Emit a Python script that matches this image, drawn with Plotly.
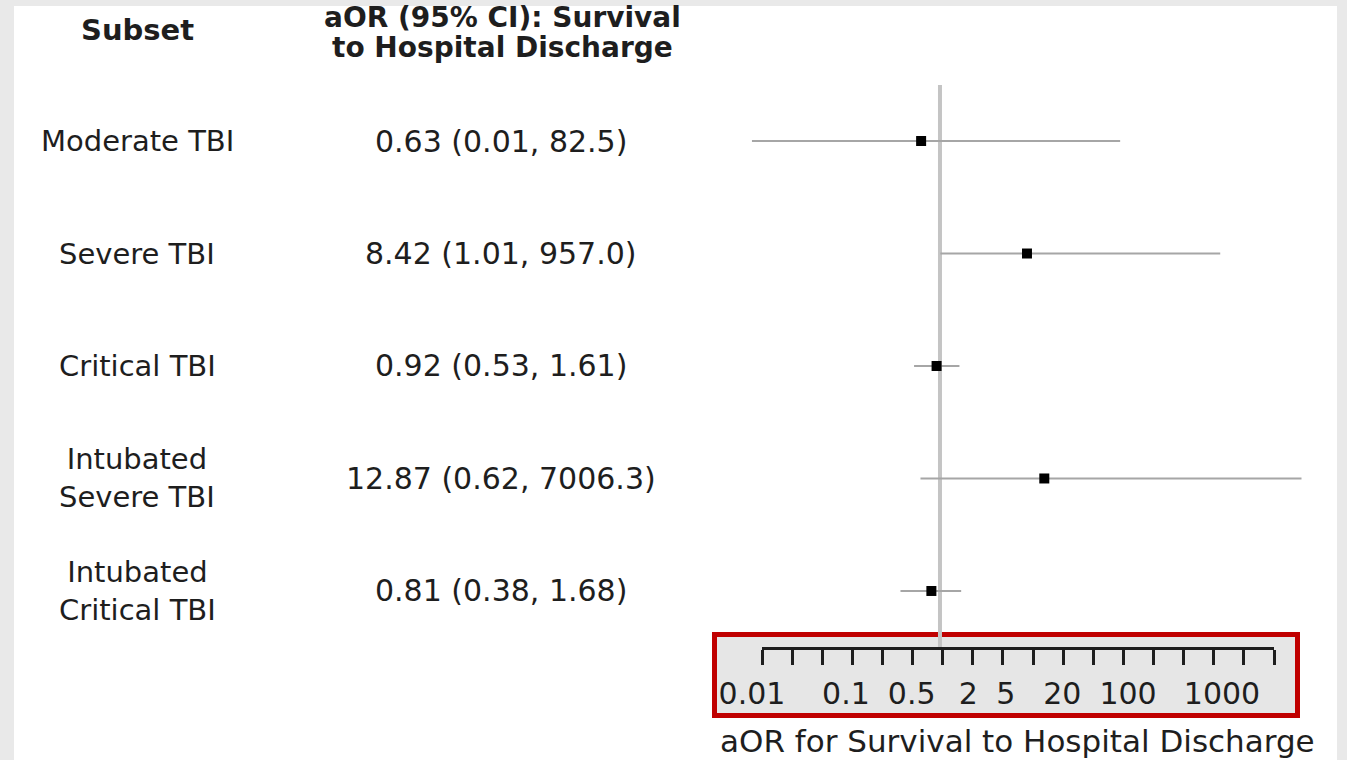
import plotly.graph_objects as go

# ---------------- data ----------------
subsets = ["Moderate TBI", "Severe TBI", "Critical TBI",
           "Intubated<br>Severe TBI", "Intubated<br>Critical TBI"]
aor = [0.63, 8.42, 0.92, 12.87, 0.81]
ci_low = [0.01, 1.01, 0.53, 0.62, 0.38]
ci_high = [82.5, 957.0, 1.61, 7006.3, 1.68]
ci_text = ["0.63 (0.01, 82.5)", "8.42 (1.01, 957.0)", "0.92 (0.53, 1.61)",
           "12.87 (0.62, 7006.3)", "0.81 (0.38, 1.68)"]
tick_vals = [0.01, 0.1, 0.5, 2, 5, 20, 100, 1000]
tick_text = ["0.01", "0.1", "0.5", "2", "5", "20", "100", "1000"]
header_subset = "Subset"
header_ci = ["aOR (95% CI): Survival", "to Hospital Discharge"]
x_title = "aOR for Survival to Hospital Discharge"
null_value = 1

# ---------------- layout constants ----------------
W, H = 1347, 760
FONT = "DejaVu Sans"
TXT = "#1e1e1e"

def px(xp):
    return xp / W

def py(yp):
    return (H - yp) / H

rows = list(range(1, len(subsets) + 1))

fig = go.Figure()

fig.add_trace(go.Scatter(
    x=aor, y=rows, mode="markers",
    marker=dict(symbol="square", size=10, color="black"),
    error_x=dict(type="data", symmetric=False,
                 array=[h - a for h, a in zip(ci_high, aor)],
                 arrayminus=[a - l for a, l in zip(aor, ci_low)],
                 color="#a6a6a6", thickness=2, width=0),
    showlegend=False, hoverinfo="skip", xaxis="x", yaxis="y"))

# empty trace to carry the ruler axis
fig.add_trace(go.Scatter(x=[], y=[], xaxis="x2", yaxis="y",
                         showlegend=False, hoverinfo="skip"))

shapes = [
    # white slide panel
    dict(type="rect", xref="paper", yref="paper", x0=px(14), x1=px(1337),
         y0=py(760), y1=py(6), fillcolor="white", line=dict(width=0), layer="below"),
    # grey axis box with red frame
    dict(type="rect", xref="paper", yref="paper", x0=px(714.5), x1=px(1297.5),
         y0=py(715.5), y1=py(634.5), fillcolor="#e6e6e6",
         line=dict(color="#c00000", width=5), layer="below"),
    # null line
    dict(type="line", xref="x", yref="y", x0=null_value, x1=null_value,
         y0=0.49, y1=5.507, line=dict(color="#c4c4c4", width=4), layer="below"),
]

def ann(text, x, y, size, yref="paper"):
    return dict(text=text, xref="paper", yref=yref, x=x, y=y, showarrow=False,
                xanchor="center", yanchor="middle", align="center",
                font=dict(family=FONT, size=size, color=TXT))

annotations = [ann("<b>%s</b>" % header_subset, px(137), py(30), 29)]
for t, yy in zip(header_ci, [17, 47]):
    annotations.append(ann("<b>%s</b>" % t, px(502), py(yy), 28))
for r, s, c in zip(rows, subsets, ci_text):
    annotations.append(ann(s, px(137), r, 29, yref="y"))
    annotations.append(ann(c, px(501), r, 30, yref="y"))
annotations.append(ann(x_title, px(1017), py(741), 31))

fig.update_layout(
    width=W, height=H,
    margin=dict(l=0, r=0, t=0, b=0),
    paper_bgcolor="#e9e9e9",
    plot_bgcolor="rgba(0,0,0,0)",
    shapes=shapes,
    annotations=annotations,
    xaxis=dict(type="log", domain=[px(720), px(1340)], range=[-2.340, 4.255],
               tickvals=tick_vals, ticktext=tick_text,
               showgrid=False, zeroline=False, showline=False,
               ticks="outside", ticklen=19, tickcolor="rgba(0,0,0,0)",
               tickfont=dict(family=FONT, size=30, color=TXT), anchor="y"),
    xaxis2=dict(domain=[px(762), px(1274)], range=[0, 17], dtick=1, tick0=0,
                anchor="free", position=py(648),
                showline=True, linecolor="#1e1e1e", linewidth=3,
                ticks="outside", ticklen=15, tickwidth=3, tickcolor="#1e1e1e",
                showticklabels=False, showgrid=False, zeroline=False),
    yaxis=dict(domain=[py(648), py(85)], range=[5.507, 0.502],
               visible=False, showgrid=False, zeroline=False),
)

fig.write_html("out.html", config={"displayModeBar": False},
               post_script="document.body.style.margin='0';document.body.style.overflow='hidden';")
